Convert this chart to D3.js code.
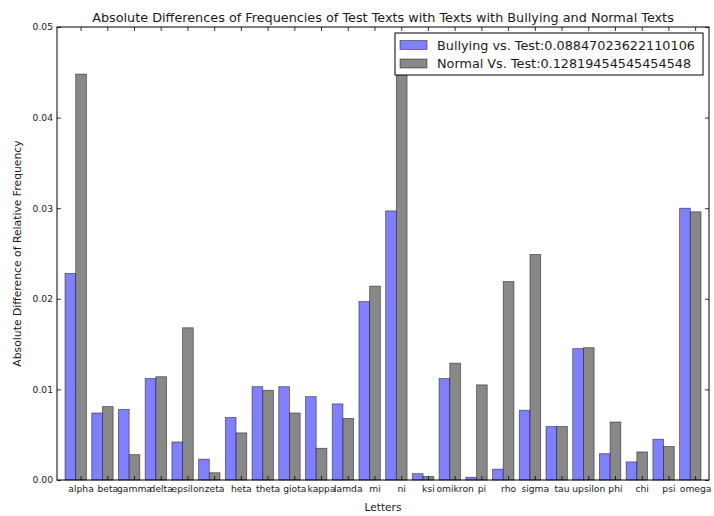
<!DOCTYPE html>
<html>
<head>
<meta charset="utf-8">
<script src="https://cdn.jsdelivr.net/npm/d3@7"></script>
<style>
  html, body { margin: 0; padding: 0; background: #fff; }
  svg { display: block; font-family: "DejaVu Sans", sans-serif; }
</style>
</head>
<body>
<svg id="chart" width="714" height="516"></svg>
<script>
const letters = ["alpha","beta","gamma","delta","epsilon","zeta","heta","theta","giota","kappa","lamda","mi","ni","ksi","omikron","pi","rho","sigma","tau","upsilon","phi","chi","psi","omega"];
const bullyingVsTest = [0.0228,0.0074,0.0078,0.0112,0.0042,0.0023,0.0069,0.0103,0.0103,0.0092,0.0084,0.0197,0.0297,0.0007,0.0112,0.0003,0.0012,0.0077,0.0059,0.0145,0.0029,0.0020,0.0045,0.0300];
const normalVsTest   = [0.0448,0.0081,0.0028,0.0114,0.0168,0.0008,0.0052,0.0099,0.0074,0.0035,0.0068,0.0214,0.0475,0.0004,0.0129,0.0105,0.0219,0.0249,0.0059,0.0146,0.0064,0.0031,0.0037,0.0296];
const seriesNames = ["Bullying vs. Test:0.08847023622110106", "Normal Vs. Test:0.12819454545454548"];
const seriesColors = ["#8080ff", "#888888"];
const yTicks = [0, 0.01, 0.02, 0.03, 0.04, 0.05];

const svg = d3.select("#chart");
const L = 57, R = 709, T = 27, B = 480;
const textColor = "#1a1a1a";

const x0 = d3.scaleBand().domain(letters).range([L, R]).paddingInner(0.2).paddingOuter(0.3);
const x1 = d3.scaleBand().domain([0, 1]).range([0, x0.bandwidth()]).padding(0);
const y = d3.scaleLinear().domain([0, 0.05]).range([B, T]);

const series = [bullyingVsTest, normalVsTest];

// bars
series.forEach((vals, s) => {
  svg.append("g").selectAll("rect").data(letters).join("rect")
    .attr("x", d => x0(d) + x1(s))
    .attr("width", x1.bandwidth())
    .attr("y", (d, i) => y(vals[i]))
    .attr("height", (d, i) => y(0) - y(vals[i]))
    .attr("fill", seriesColors[s])
    .attr("stroke", "rgba(0,0,0,0.55)")
    .attr("stroke-width", 0.8);
});

// axes (ticks pointing inward on all sides); ticks sit at the centre of the second bar
const shift = x1.bandwidth() / 2;
const xb = svg.append("g").attr("transform", `translate(${shift},${B})`)
  .call(d3.axisBottom(x0).tickSizeInner(-4).tickSizeOuter(0).tickPadding(5));
xb.select(".domain").remove();
xb.selectAll("text").attr("font-size", "9.2px").attr("font-family", "DejaVu Sans").attr("fill", textColor);

const xt = svg.append("g").attr("transform", `translate(${shift},${T})`)
  .call(d3.axisTop(x0).tickSizeInner(-4).tickSizeOuter(0).tickFormat(""));
xt.select(".domain").remove();

const yl = svg.append("g").attr("transform", `translate(${L},0)`)
  .call(d3.axisLeft(y).tickValues(yTicks).tickFormat(d3.format(".2f")).tickSizeInner(-4).tickSizeOuter(0).tickPadding(4));
yl.select(".domain").remove();
yl.selectAll("text").attr("font-size", "9.2px").attr("font-family", "DejaVu Sans").attr("fill", textColor);

const yr = svg.append("g").attr("transform", `translate(${R},0)`)
  .call(d3.axisRight(y).tickValues(yTicks).tickFormat("").tickSizeInner(-4).tickSizeOuter(0));
yr.select(".domain").remove();

svg.selectAll(".tick line").attr("stroke", "#000").attr("stroke-width", 0.8);

// frame
svg.append("rect").attr("x", L).attr("y", T).attr("width", R - L).attr("height", B - T)
  .attr("fill", "none").attr("stroke", "#000").attr("stroke-width", 1);

// title and axis labels
svg.append("text").attr("x", (L + R) / 2).attr("y", 22).attr("text-anchor", "middle")
  .attr("font-size", "12.8px").attr("fill", textColor)
  .text("Absolute Differences of Frequencies of Test Texts with Texts with Bullying and Normal Texts");
svg.append("text").attr("x", (L + R) / 2).attr("y", 511).attr("text-anchor", "middle")
  .attr("font-size", "10.6px").attr("fill", textColor).text("Letters");
svg.append("text").attr("transform", `translate(21,${(T + B) / 2}) rotate(-90)`).attr("text-anchor", "middle")
  .attr("font-size", "10.8px").attr("fill", textColor).text("Absolute Difference of Relative Frequency");

// legend
const lg = svg.append("g");
lg.append("rect").attr("x", 395).attr("y", 33).attr("width", 308).attr("height", 42)
  .attr("fill", "#fff").attr("stroke", "#000").attr("stroke-width", 1);
seriesNames.forEach((name, s) => {
  const cy = 45 + s * 18.5;
  lg.append("rect").attr("x", 400).attr("y", cy - 4.5).attr("width", 27).attr("height", 9)
    .attr("fill", seriesColors[s]).attr("stroke", "rgba(0,0,0,0.55)").attr("stroke-width", 0.8);
  lg.append("text").attr("x", 437).attr("y", cy).attr("dy", "0.36em")
    .attr("font-size", "12.8px").attr("fill", textColor).text(name);
});
</script>
</body>
</html>
